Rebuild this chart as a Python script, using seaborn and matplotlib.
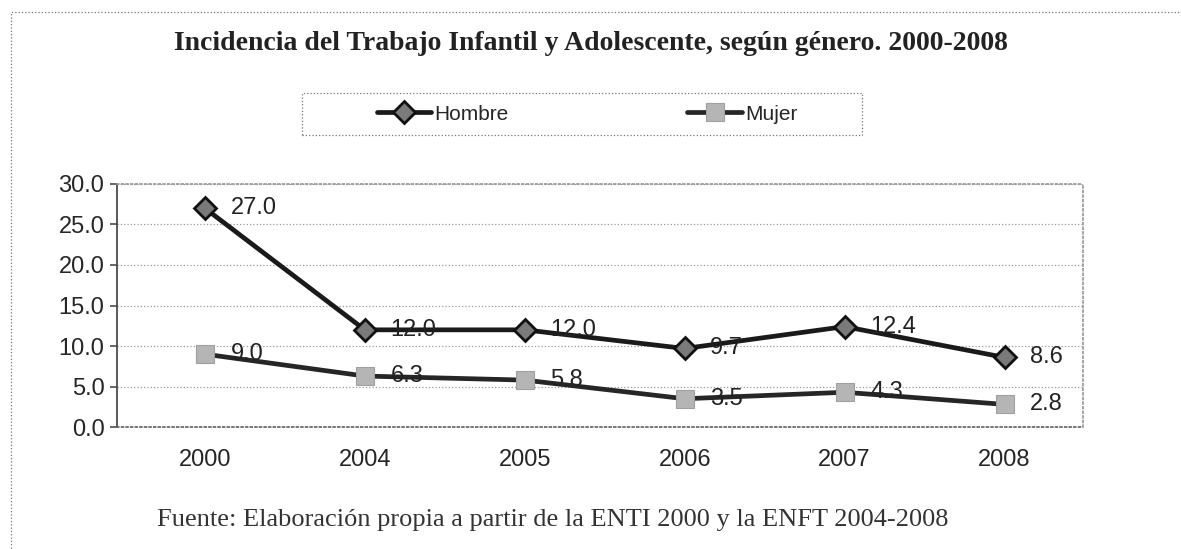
import matplotlib
matplotlib.use("Agg")
import matplotlib.pyplot as plt
import seaborn as sns
import pandas as pd
from matplotlib.patches import Rectangle

years = ["2000", "2004", "2005", "2006", "2007", "2008"]
hombre = [27.0, 12.0, 12.0, 9.7, 12.4, 8.6]
mujer = [9.0, 6.3, 5.8, 3.5, 4.3, 2.8]
yticks = [0, 5, 10, 15, 20, 25, 30]

sns.set_theme(style="white")
plt.rcParams['font.family'] = ['Liberation Sans', 'DejaVu Sans']

df = pd.DataFrame({
    "year": years * 2,
    "pos": list(range(len(years))) * 2,
    "value": hombre + mujer,
    "serie": ["Hombre"] * len(years) + ["Mujer"] * len(years),
})

fig = plt.figure(figsize=(11.81, 5.49), dpi=100)
ax = fig.add_axes([0.099, 0.222, 0.818, 0.443])

sns.lineplot(data=df[df.serie == "Hombre"], x="pos", y="value", ax=ax,
             color="#1a1a1a", lw=3.4, marker="D", markersize=11,
             markerfacecolor="#7a7a7a", markeredgecolor="#111111", markeredgewidth=2,
             label="Hombre", legend=False)
sns.lineplot(data=df[df.serie == "Mujer"], x="pos", y="value", ax=ax,
             color="#262626", lw=3.4, marker="s", markersize=13,
             markerfacecolor="#b5b5b5", markeredgecolor="#a0a0a0", markeredgewidth=0.8,
             label="Mujer", legend=False)

for i, v in enumerate(hombre):
    ax.text(i + 0.16, v, f"{v:.1f}", fontsize=17, va="center", ha="left", color="#222222")
for i, v in enumerate(mujer):
    ax.text(i + 0.16, v, f"{v:.1f}", fontsize=17, va="center", ha="left", color="#222222")

ax.set_ylim(0, 30)
ax.set_xlim(-0.55, 5.49)
ax.set_yticks(yticks)
ax.set_yticklabels([f"{t:.1f}" for t in yticks], fontsize=17)
ax.set_xticks(range(len(years)))
ax.set_xticklabels(years, fontsize=17)
ax.tick_params(axis="x", length=0, pad=16)
ax.tick_params(axis="y", length=5, left=True, color="#555555", pad=4)
ax.set_xlabel("")
ax.set_ylabel("")
ax.grid(axis="y", linestyle=":", color="#999999", lw=0.9)
for side in ["top", "right"]:
    ax.spines[side].set_linestyle(":")
    ax.spines[side].set_color("#999999")
ax.spines["left"].set_color("#444444")
ax.spines["bottom"].set_color("#666666")
ax.spines["bottom"].set_linestyle(":")

fig.text(0.5, 0.92, "Incidencia del Trabajo Infantil y Adolescente, según género. 2000-2008",
         ha="center", va="center", fontsize=20, fontweight="bold",
         family=["Liberation Serif", "DejaVu Serif"], color="#222222")
fig.text(0.468, 0.053, "Fuente: Elaboración propia a partir de la ENTI 2000 y la ENFT 2004-2008",
         ha="center", va="center", fontsize=19, family=["Liberation Serif", "DejaVu Serif"],
         color="#333333")

leg = ax.legend(loc="center", bbox_to_anchor=(0.497, 0.792), bbox_transform=fig.transFigure,
                ncol=2, frameon=False, fontsize=15, handlelength=2.6,
                handletextpad=0.15, columnspacing=8.6, borderpad=0, borderaxespad=0)

fig.patches.append(Rectangle((0.2557, 0.754), 0.474, 0.0766, transform=fig.transFigure,
                             fill=False, ls=":", lw=0.9, ec="#777777"))
fig.patches.append(Rectangle((0.009, -0.02), 1.0, 0.998, transform=fig.transFigure,
                             fill=False, ls=":", lw=0.9, ec="#777777"))

fig.savefig("out.png", dpi=100)
